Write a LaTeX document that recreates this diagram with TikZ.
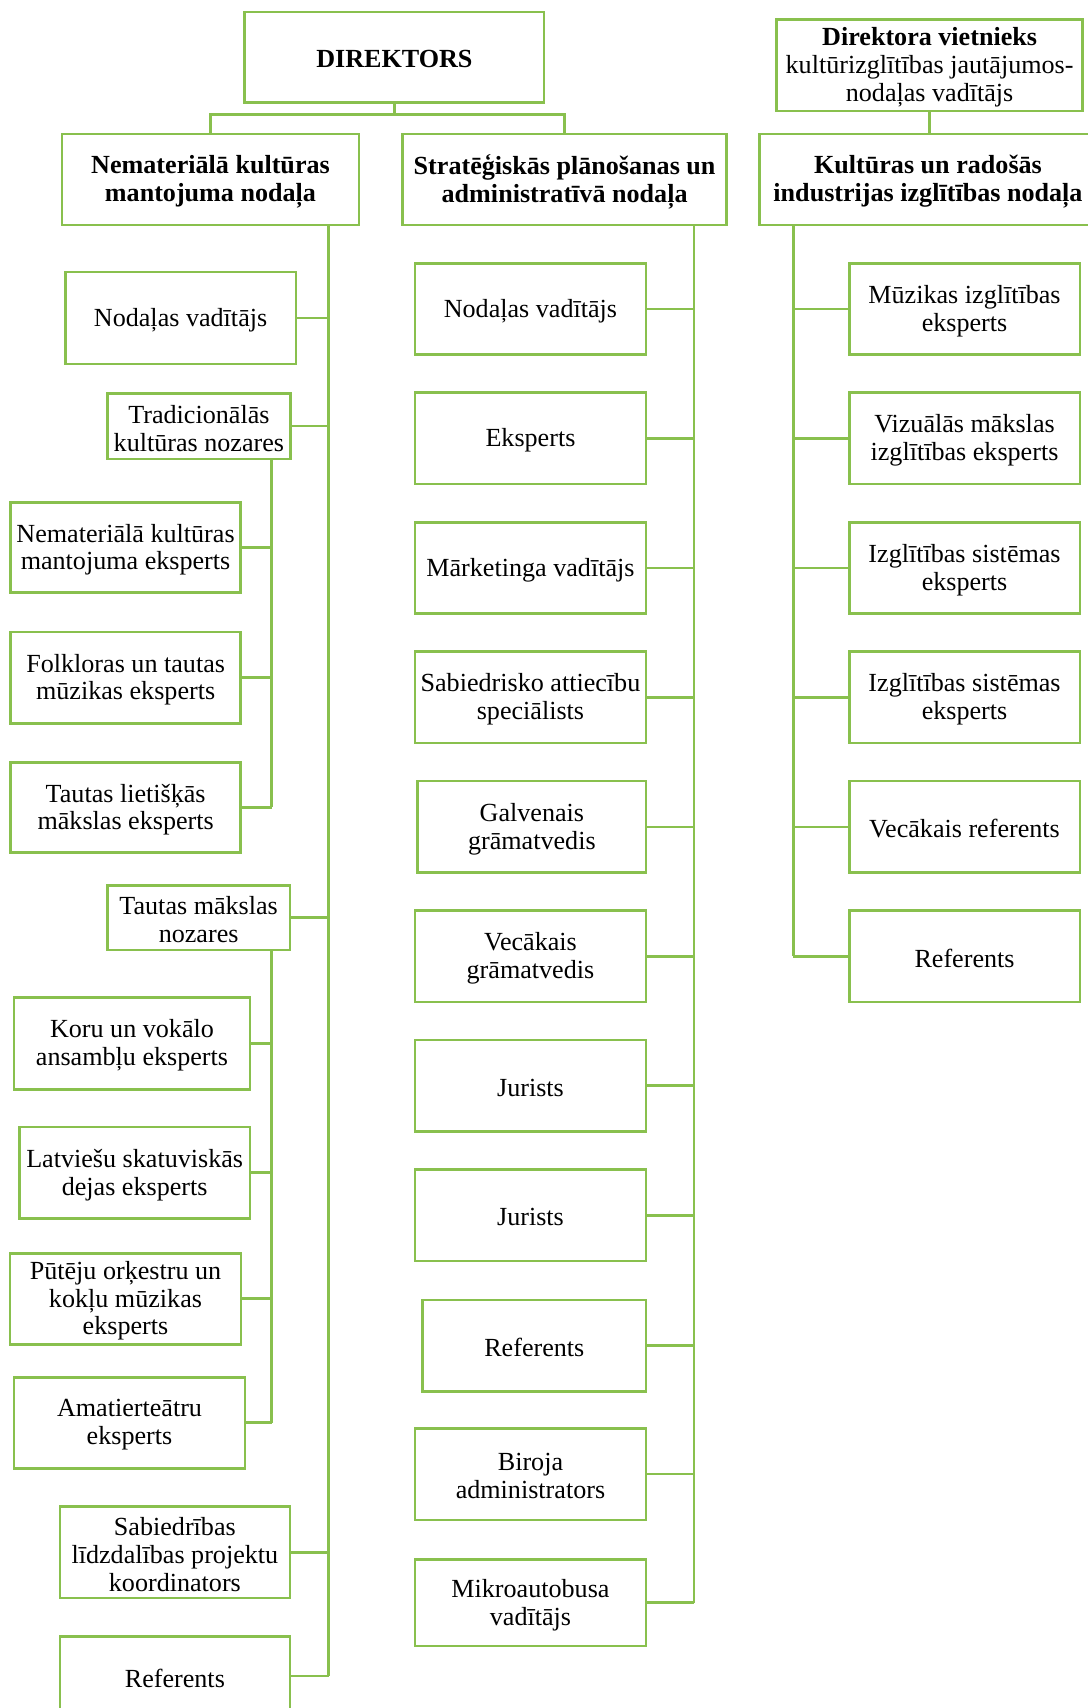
\documentclass[tikz,border=0pt]{standalone}
\usepackage{fontspec}
\setmainfont{Liberation Serif}
\definecolor{grn}{RGB}{137,192,78}
\newcommand{\fs}{\fontsize{24}{25.5}\selectfont}
\newcommand{\bx}[6]{%
  \node[box, minimum width={(#4-#2)*1pt}, minimum height={(#5-#3)*1pt}] (#1) at ({(#2+#4)/2},{(#3+#5)/2}) {};
  \node[txt] (#1-t) at ([yshift=-2pt]#1.center) {#6};}
\tikzset{
  box/.style={draw=grn, line width=2.4pt, inner sep=0pt},
  txt/.style={align=center, inner sep=0pt, font=\fs, text=black},
  ln/.style={draw=grn, line width=2.4pt},
}
\begin{document}
\begin{tikzpicture}[x=1pt,y=-1pt]
\useasboundingbox (0,0) rectangle (1000,1570);
% top level
\bx{dir}{225}{11}{500}{94}{\textbf{DIREKTORS}}
\bx{nem}{57}{123}{330}{207}{\textbf{Nemateriālā kultūras}\\\textbf{mantojuma nodaļa}}
\bx{str}{370}{123}{668}{207}{\textbf{Stratēģiskās plānošanas un}\\\textbf{administratīvā nodaļa}}
\bx{viet}{714}{18}{995}{102}{\textbf{Direktora vietnieks}\\kultūrizglītības jautājumos-\\nodaļas vadītājs}
\bx{kul}{698}{123}{1008}{207}{\textbf{Kultūras un radošās}\\\textbf{industrijas izglītības nodaļa}}
% column 1
\bx{aa}{60}{250}{272}{334.5}{Nodaļas vadītājs}
\bx{trad}{98.7}{361.5}{267}{422}{Tradicionālās\\kultūras nozares}
\bx{nke}{9.8}{461.7}{221}{544.7}{Nemateriālā kultūras\\mantojuma eksperts}
\bx{fol}{9.8}{581}{221.2}{664.8}{Folkloras un tautas\\mūzikas eksperts}
\bx{tle}{9.8}{700.7}{221.2}{783.7}{Tautas lietišķās\\mākslas eksperts}
\bx{tmn}{98.7}{814}{266.5}{873.2}{Tautas mākslas\\nozares}
\bx{kor}{12.9}{917}{229.8}{1001.2}{Koru un vokālo\\ansambļu eksperts}
\bx{lat}{17.8}{1036}{229.8}{1119.8}{Latviešu skatuviskās\\dejas eksperts}
\bx{put}{9.2}{1152}{221.5}{1235.6}{Pūtēju orķestru un\\kokļu mūzikas\\eksperts}
\bx{ama}{12.9}{1266}{225.2}{1349.6}{Amatierteātru\\eksperts}
\bx{sab}{55}{1385}{266.5}{1469}{Sabiedrības\\līdzdalības projektu\\koordinators}
\bx{refa}{55}{1504}{266.5}{1577}{Referents}
% column 2
\bx{ba}{381.4}{242}{593.8}{326}{Nodaļas vadītājs}
\bx{bb}{381.4}{361}{593.8}{445}{Eksperts}
\bx{bc}{381.4}{480}{593.8}{564}{Mārketinga vadītājs}
\bx{bd}{381.4}{599}{593.8}{683}{Sabiedrisko attiecību\\speciālists}
\bx{be}{384}{718}{593.8}{802}{Galvenais\\grāmatvedis}
\bx{bf}{381.4}{837}{593.8}{921}{Vecākais\\grāmatvedis}
\bx{bg}{381.4}{956}{593.8}{1040}{Jurists}
\bx{bh}{381.4}{1075}{593.8}{1159}{Jurists}
\bx{bi}{388.5}{1195}{593.8}{1279}{Referents}
\bx{bj}{381.4}{1313}{593.8}{1397}{Biroja\\administrators}
\bx{bk}{381.4}{1433.5}{593.8}{1513}{Mikroautobusa\\vadītājs}
% column 3
\bx{ca}{780.6}{242}{992.6}{326}{Mūzikas izglītības\\eksperts}
\bx{cb}{780.6}{361}{992.6}{445}{Vizuālās mākslas\\izglītības eksperts}
\bx{cc}{780.6}{480}{992.6}{564}{Izglītības sistēmas\\eksperts}
\bx{cd}{780.6}{599}{992.6}{683}{Izglītības sistēmas\\eksperts}
\bx{ce}{780.6}{718}{992.6}{802}{Vecākais referents}
\bx{cf}{780.6}{837}{992.6}{921}{Referents}
% trunk coordinates
\coordinate (t1) at (302,0);
\coordinate (t2) at (638,0);
\coordinate (t3) at (729.3,0);
\coordinate (s1) at (249.7,0);
\coordinate (jn) at (362.5,105);
% top connectors
\draw[ln] (dir.south) -- (jn);
\draw[ln] (jn) -| (nem.north);
\draw[ln] (jn) -| (str.north);
\draw[ln] (viet.south) -- (viet.south |- kul.north);
% column 1 trunk
\draw[ln] (t1 |- nem.south) -- (t1 |- refa.east);
\foreach \n in {aa,trad,tmn,sab,refa} \draw[ln] (\n.east) -- (\n.east -| t1);
\draw[ln] (s1 |- trad.south) -- (s1 |- tle.east);
\foreach \n in {nke,fol,tle} \draw[ln] (\n.east) -- (\n.east -| s1);
\draw[ln] (s1 |- tmn.south) -- (s1 |- ama.east);
\foreach \n in {kor,lat,put,ama} \draw[ln] (\n.east) -- (\n.east -| s1);
% column 2 trunk
\draw[ln] (t2 |- str.south) -- (t2 |- bk.east);
\foreach \n in {ba,bb,bc,bd,be,bf,bg,bh,bi,bj,bk} \draw[ln] (\n.east) -- (\n.east -| t2);
% column 3 trunk
\draw[ln] (t3 |- kul.south) -- (t3 |- cf.west);
\foreach \n in {ca,cb,cc,cd,ce,cf} \draw[ln] (\n.west) -- (\n.west -| t3);
\end{tikzpicture}
\end{document}
